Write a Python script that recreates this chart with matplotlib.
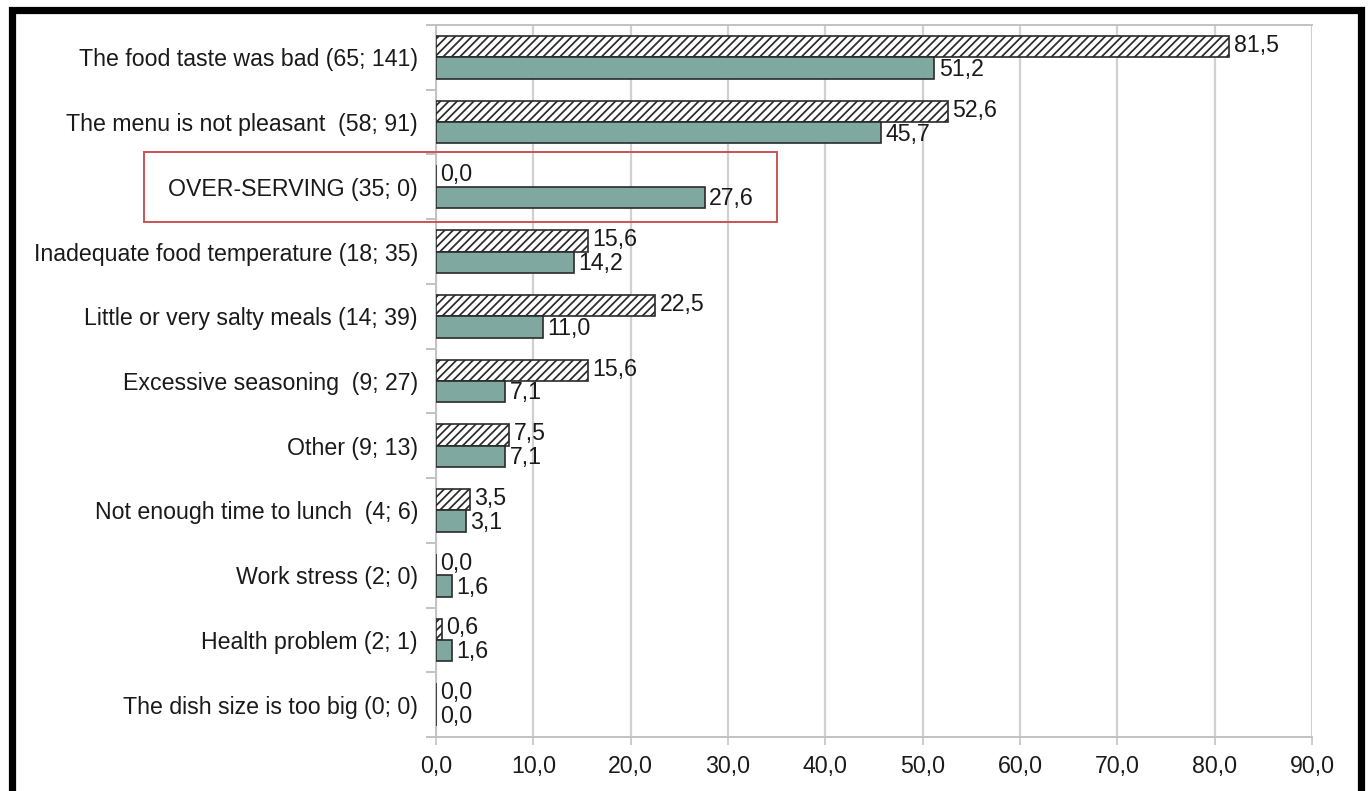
import matplotlib
matplotlib.use("Agg")
import matplotlib.pyplot as plt
from matplotlib.patches import Rectangle
from matplotlib import font_manager
import numpy as np

# Reasons for leaving food, with (n; n) counts shown in the labels
categories = [
    "The food taste was bad (65; 141)",
    "The menu is not pleasant  (58; 91)",
    "OVER-SERVING (35; 0)",
    "Inadequate food temperature (18; 35)",
    "Little or very salty meals (14; 39)",
    "Excessive seasoning  (9; 27)",
    "Other (9; 13)",
    "Not enough time to lunch  (4; 6)",
    "Work stress (2; 0)",
    "Health problem (2; 1)",
    "The dish size is too big (0; 0)",
]
hatched_values = [81.5, 52.6, 0.0, 15.6, 22.5, 15.6, 7.5, 3.5, 0.0, 0.6, 0.0]
solid_values = [51.2, 45.7, 27.6, 14.2, 11.0, 7.1, 7.1, 3.1, 1.6, 1.6, 0.0]
x_ticks = [0, 10, 20, 30, 40, 50, 60, 70, 80, 90]

available = {f.name for f in font_manager.fontManager.ttflist}
family = ["Liberation Sans Narrow"] if "Liberation Sans Narrow" in available else ["Liberation Sans"]
fsize = 19.5 if family[0] == "Liberation Sans Narrow" else 16.7

plt.rcParams["font.family"] = family + ["DejaVu Sans"]
plt.rcParams["hatch.linewidth"] = 1.25
plt.rcParams["hatch.color"] = "#1a1a1a"

W, H = 1368, 791
fig = plt.figure(figsize=(W / 100, H / 100), dpi=100)
fig.patch.set_facecolor("white")

ax_left, ax_right, ax_top, ax_bottom = 436, 1312, 25, 737
ax = fig.add_axes([ax_left / W, 1 - ax_bottom / H,
                   (ax_right - ax_left) / W, (ax_bottom - ax_top) / H])

y = np.arange(len(categories))
bar_h = 0.33
edge = "#2a2a2a"
teal = "#7fa9a0"
text_color = "#1a1a1a"

ax.barh(y - bar_h / 2, hatched_values, height=bar_h, color="white",
        edgecolor=edge, linewidth=1.2, hatch="////", zorder=3)
ax.barh(y + bar_h / 2, solid_values, height=bar_h, color=teal,
        edgecolor=edge, linewidth=1.2, zorder=3)

def fmt(v):
    return f"{v:.1f}".replace(".", ",")

for yi, v in zip(y, hatched_values):
    ax.text(v + 0.45, yi - bar_h / 2 - 0.02, fmt(v), va="center", ha="left",
            fontsize=fsize, color=text_color, zorder=4)
for yi, v in zip(y, solid_values):
    ax.text(v + 0.45, yi + bar_h / 2 + 0.02, fmt(v), va="center", ha="left",
            fontsize=fsize, color=text_color, zorder=4)

ax.set_xlim(0, 90)
ax.set_ylim(len(categories) - 0.5, -0.5)

ax.set_xticks(x_ticks)
ax.set_xticklabels([fmt(t) for t in x_ticks], fontsize=fsize, color=text_color)
ax.set_yticks(y)
ax.set_yticklabels(categories, fontsize=fsize, color=text_color)
ax.set_yticks(np.arange(-0.5, len(categories)), minor=True)

grid_color = "#d0d0d0"
ax.tick_params(axis="y", which="major", length=0, pad=13)
ax.tick_params(axis="y", which="minor", length=7, width=1.3, color="#bdbdbd")
ax.tick_params(axis="x", which="major", length=6, width=1.3, color="#c8c8c8", pad=7)
ax.xaxis.grid(True, color=grid_color, linewidth=1.6, zorder=0)
ax.set_axisbelow(True)
for side, sp in ax.spines.items():
    sp.set_color("#c2c2c2")
    sp.set_linewidth(1.4)
ax.spines["right"].set_visible(False)

# highlight box around the OVER-SERVING row
fig.add_artist(Rectangle((144 / W, 1 - 222 / H), (777 - 144) / W, (222 - 152) / H,
                         transform=fig.transFigure, fill=False,
                         edgecolor="#c85454", linewidth=1.4, zorder=5))

# heavy outer frame (open at the bottom)
fig.add_artist(Rectangle((11.5 / W, -0.05), (1360.5 - 11.5) / W, 1.05 - 10 / H,
                         transform=fig.transFigure, fill=False,
                         edgecolor="black", linewidth=5.2, zorder=6))

fig.savefig("out.png", dpi=100, facecolor="white")
